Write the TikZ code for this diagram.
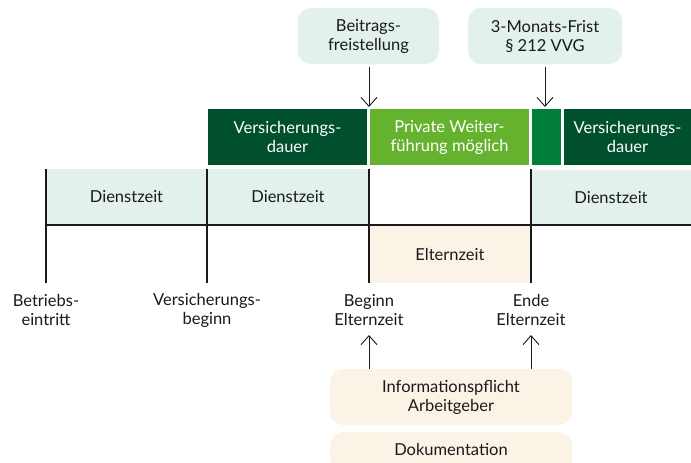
\documentclass[tikz,border=0pt]{standalone}
\usepackage{fontspec}
\setmainfont{Lato}
\usepackage{xcolor}
\usetikzlibrary{positioning, arrows.meta}

\definecolor{darkgreen}{HTML}{00502E}
\definecolor{lightgreen}{HTML}{64B22E}
\definecolor{midgreen}{HTML}{007E3A}
\definecolor{paleteal}{HTML}{E3F1EC}
\definecolor{cream}{HTML}{FAF3E6}
\definecolor{ink}{HTML}{1A1A1A}

\tikzset{
  bar/.style={minimum height=56pt, inner sep=0pt, text=white, align=center},
  cell/.style={minimum height=56pt, inner sep=0pt, fill=paleteal, text=ink},
  note/.style={rounded corners=13pt, minimum height=56pt, inner sep=0pt, align=center, text=ink},
  label/.style={align=center, text=ink},
  arr/.style={-{Straight Barb[length=9pt, width=16pt]}, line width=0.9pt, ink},
  tick/.style={line width=1.1pt, ink}
}

\begin{document}
\begin{tikzpicture}[x=1pt, y=-1pt, font=\fontsize{16.5}{19}\selectfont]
\clip (0,0) rectangle (691,463);
\fill[white] (0,0) rectangle (691,463);

% Versicherungsdauer / Weiterfuehrung
\node[bar, fill=darkgreen, minimum width=159pt] (dv1) at (287.5,137) {Versicherungs-\\dauer};
\node[bar, fill=lightgreen, minimum width=159pt] (pw) at (449.5,137) {Private Weiter-\\führung möglich};
\node[bar, fill=midgreen, minimum width=29pt] (fr3) at (546.5,137) {};
\node[bar, fill=darkgreen, minimum width=127pt] (dv2) at (627.5,137) {Versicherungs-\\dauer};

% Dienstzeit
\node[cell, minimum width=161pt] (dz1) at (126.5,197) {Dienstzeit};
\node[cell, minimum width=162pt] (dz2) at (288,197) {Dienstzeit};
\node[cell, minimum width=160pt] (dz3) at (611,198) {Dienstzeit};
\node[fill=cream, minimum width=162pt, minimum height=58pt, inner sep=0pt, text=ink] (ez) at (450,254) {Elternzeit};

% Zeitachse
\draw[tick] (46,225) -- (691,225);
\foreach \x in {46,207,369,531}
  \draw[tick] (\x,169) -- (\x,283);

% Zeitpunkte
\node[label] (be) at (46,310) {Betriebs-\\eintritt};
\node[label] (vb) at (207,310) {Versicherungs-\\beginn};
\node[label] (bez) at (369,310) {Beginn\\Elternzeit};
\node[label] (eez) at (531,310) {Ende\\Elternzeit};

% Hinweise oben
\node[note, fill=paleteal, minimum width=141pt] (bf) at (368.5,36) {Beitrags-\\freistellung};
\node[note, fill=paleteal, minimum width=154pt] (mf) at (545,36) {3-Monats-Frist\\§ 212 VVG};
\coordinate (bf-end) at (369,107);
\coordinate (mf-end) at (545,107);
\draw[arr] (bf.south) ++(0.5,3) -- (bf-end);
\draw[arr] (mf.south) ++(0,3) -- (mf-end);

% Hinweise unten
\node[note, fill=cream, minimum width=242pt] (ip) at (451,397) {Informationspflicht\\Arbeitgeber};
\node[note, fill=cream, minimum width=242pt, minimum height=40pt, rounded corners=14pt] (doku) at (451,452) {};
\node[text=ink] at (451,449) {Dokumentation};
\coordinate (bez-end) at (369,335);
\coordinate (eez-end) at (531,335);
\draw[arr] (ip.north -| bez-end) -- (bez-end);
\draw[arr] (ip.north -| eez-end) -- (eez-end);
\end{tikzpicture}
\end{document}
